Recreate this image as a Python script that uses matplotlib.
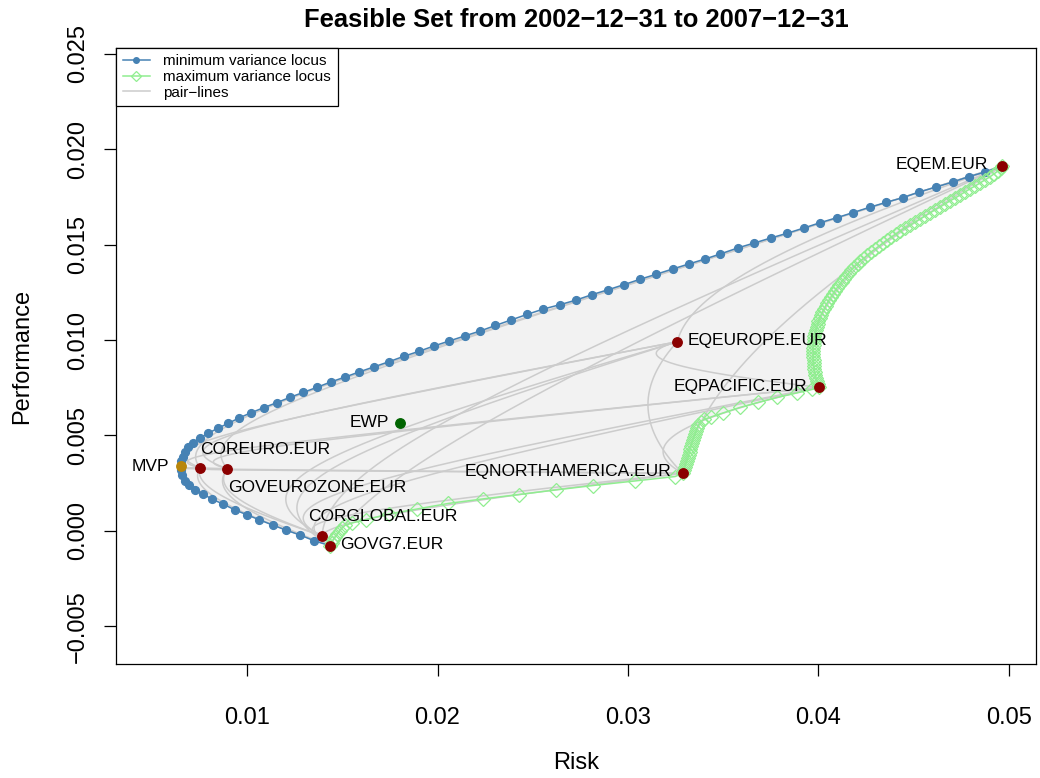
import matplotlib
matplotlib.use("Agg")
import matplotlib.pyplot as plt
from matplotlib.lines import Line2D
import numpy as np

# assets: risk (sd) and performance (mean)
assets = ["CORGLOBAL.EUR", "COREURO.EUR", "GOVG7.EUR", "GOVEUROZONE.EUR",
          "EQEUROPE.EUR", "EQNORTHAMERICA.EUR", "EQPACIFIC.EUR", "EQEM.EUR"]
asset_risk = [0.01394, 0.00753, 0.01436, 0.00897, 0.03259, 0.03287, 0.04004, 0.04965]
asset_return = [-0.00026, 0.00331, -0.00077, 0.00326, 0.00991, 0.00302, 0.00752, 0.01911]

# estimated pairwise correlations (same asset order), used for the pair-lines
corr = [
    [1.00, 0.45, 0.95, 0.45, -0.15, 0.15, -0.05, 0.30],
    [0.45, 1.00, 0.35, 0.90, -0.26, -0.28, -0.25, -0.10],
    [0.95, 0.35, 1.00, 0.40, -0.10, 0.175, 0.00, 0.50],
    [0.45, 0.90, 0.40, 1.00, -0.30, -0.25, -0.20, -0.10],
    [-0.15, -0.26, -0.10, -0.30, 1.00, 0.80, 0.60, 0.70],
    [0.15, -0.28, 0.175, -0.25, 0.80, 1.00, 0.62, 0.72],
    [-0.05, -0.25, 0.00, -0.20, 0.60, 0.62, 1.00, 0.715],
    [0.30, -0.10, 0.50, -0.10, 0.70, 0.72, 0.715, 1.00],
]

mvp_risk, mvp_return = 0.00652, 0.00340
ewp_risk, ewp_return = 0.01802, 0.00564

# minimum variance locus
min_risk = [0.01436, 0.01352, 0.01278, 0.01203, 0.01135, 0.01065, 0.01002, 0.00937, 0.00876, 0.00818,
            0.00771, 0.00727, 0.00697, 0.00675, 0.00659, 0.00654, 0.00652, 0.00655, 0.00662, 0.00675,
            0.00692, 0.00715, 0.00753, 0.00797, 0.00846, 0.00902, 0.00960, 0.01021, 0.01088, 0.01156,
            0.01226, 0.01296, 0.01366, 0.01439, 0.01514, 0.01589, 0.01668, 0.01744, 0.01824, 0.01903,
            0.01982, 0.02062, 0.02142, 0.02223, 0.02304, 0.02386, 0.02470, 0.02555, 0.02643, 0.02727,
            0.02809, 0.02895, 0.02979, 0.03063, 0.03147, 0.03235, 0.03319, 0.03404, 0.03483, 0.03579,
            0.03663, 0.03749, 0.03836, 0.03922, 0.04008, 0.04095, 0.04181, 0.04269, 0.04356, 0.04442,
            0.04529, 0.04617, 0.04704, 0.04788, 0.04876, 0.04965]
min_return = [-0.00077, -0.00051, -0.00021, 0.00005, 0.00031, 0.00058, 0.00084, 0.00110, 0.00140, 0.00166,
              0.00192, 0.00215, 0.00241, 0.00263, 0.00293, 0.00317, 0.00340, 0.00367, 0.00389, 0.00415,
              0.00441, 0.00462, 0.00487, 0.00512, 0.00538, 0.00564, 0.00593, 0.00619, 0.00646, 0.00672,
              0.00700, 0.00726, 0.00752, 0.00780, 0.00806, 0.00833, 0.00860, 0.00886, 0.00915, 0.00941,
              0.00969, 0.00995, 0.01021, 0.01047, 0.01076, 0.01105, 0.01134, 0.01162, 0.01185, 0.01209,
              0.01237, 0.01263, 0.01290, 0.01318, 0.01344, 0.01372, 0.01398, 0.01424, 0.01450, 0.01483,
              0.01508, 0.01534, 0.01559, 0.01586, 0.01614, 0.01640, 0.01667, 0.01695, 0.01721, 0.01745,
              0.01775, 0.01801, 0.01827, 0.01855, 0.01880, 0.01911]

# maximum variance locus
max_risk = [0.01436, 0.01444, 0.01451, 0.01462, 0.01472, 0.01486, 0.01499, 0.01514, 0.01551, 0.01625,
            0.01745, 0.01892, 0.02055, 0.02239, 0.02428, 0.02622, 0.02816, 0.03037, 0.03247, 0.03287,
            0.03294, 0.03299, 0.03304, 0.03310, 0.03315, 0.03319, 0.03323, 0.03328, 0.03332, 0.03336,
            0.03341, 0.03346, 0.03352, 0.03357, 0.03362, 0.03370, 0.03381, 0.03399, 0.03436, 0.03499,
            0.03588, 0.03682, 0.03782, 0.03887, 0.03966, 0.04004,
            0.03997, 0.03992, 0.03987, 0.03983, 0.03980, 0.03978, 0.03976, 0.03975, 0.03974, 0.03973,
            0.03973, 0.03973, 0.03973, 0.03974, 0.03975, 0.03976, 0.03979, 0.03982, 0.03986, 0.03990,
            0.03995, 0.04000, 0.04006, 0.04013, 0.04021, 0.04029, 0.04037, 0.04046, 0.04055, 0.04065,
            0.04076, 0.04086, 0.04097, 0.04108, 0.04121, 0.04134, 0.04147, 0.04160, 0.04173, 0.04189,
            0.04205, 0.04220, 0.04239, 0.04257, 0.04276, 0.04297, 0.04318, 0.04339, 0.04360, 0.04383,
            0.04407, 0.04430, 0.04454, 0.04480, 0.04507, 0.04533, 0.04559, 0.04585, 0.04612, 0.04638,
            0.04664, 0.04690, 0.04717, 0.04743, 0.04769, 0.04795, 0.04822, 0.04848, 0.04874, 0.04898,
            0.04921, 0.04942, 0.04958, 0.04965]
max_return = [-0.00077, -0.00063, -0.00047, -0.00031, -0.00016, 0.00000, 0.00016, 0.00029, 0.00042, 0.00060,
              0.00089, 0.00115, 0.00144, 0.00168, 0.00191, 0.00215, 0.00238, 0.00262, 0.00285, 0.00302,
              0.00319, 0.00335, 0.00351, 0.00367, 0.00382, 0.00398, 0.00414, 0.00429, 0.00445, 0.00461,
              0.00476, 0.00492, 0.00508, 0.00524, 0.00539, 0.00555, 0.00571, 0.00584, 0.00597, 0.00618,
              0.00647, 0.00673, 0.00699, 0.00723, 0.00741, 0.00752,
              0.00770, 0.00785, 0.00801, 0.00817, 0.00833, 0.00848, 0.00864, 0.00880, 0.00895, 0.00911,
              0.00927, 0.00942, 0.00958, 0.00974, 0.00990, 0.01005, 0.01021, 0.01037, 0.01052, 0.01068,
              0.01084, 0.01100, 0.01115, 0.01131, 0.01147, 0.01162, 0.01178, 0.01194, 0.01209, 0.01225,
              0.01241, 0.01257, 0.01272, 0.01288, 0.01304, 0.01319, 0.01335, 0.01351, 0.01367, 0.01382,
              0.01398, 0.01414, 0.01429, 0.01445, 0.01461, 0.01476, 0.01492, 0.01508, 0.01524, 0.01539,
              0.01555, 0.01571, 0.01586, 0.01602, 0.01618, 0.01633, 0.01649, 0.01665, 0.01681, 0.01696,
              0.01712, 0.01728, 0.01743, 0.01759, 0.01775, 0.01791, 0.01806, 0.01822, 0.01838, 0.01853,
              0.01869, 0.01885, 0.01901, 0.01911]

x_ticks = [0.01, 0.02, 0.03, 0.04, 0.05]
y_ticks = [-0.005, 0.0, 0.005, 0.010, 0.015, 0.020, 0.025]

# label placement: (dx px, dy px, ha)
label_pos = {
    "CORGLOBAL.EUR": (-14, 19, "left"),
    "COREURO.EUR": (0, 18, "left"),
    "GOVG7.EUR": (10, 1, "left"),
    "GOVEUROZONE.EUR": (1, -19, "left"),
    "EQEUROPE.EUR": (10, 1, "left"),
    "EQNORTHAMERICA.EUR": (-11, 2, "right"),
    "EQPACIFIC.EUR": (-12, 1, "right"),
    "EQEM.EUR": (-14, 2, "right"),
}

plt.rcParams['font.family'] = ['Liberation Sans', 'DejaVu Sans']

W, H = 1040, 778
fig = plt.figure(figsize=(W / 100, H / 100), dpi=100)
left, right, top, bottom = 116, 1036, 47.6, 664.3
ax = fig.add_axes([left / W, 1 - bottom / H, (right - left) / W, (bottom - top) / H])
ax.set_xlim(0.00312, 0.05142)
ax.set_ylim(-0.00698, 0.02531)

# shaded feasible set
poly_x = min_risk + max_risk[::-1]
poly_y = min_return + max_return[::-1]
ax.fill(poly_x, poly_y, color='#F2F2F2', lw=0, zorder=1)

# pair-lines (two asset portfolios)
s = np.array(asset_risk)
m = np.array(asset_return)
c = np.array(corr)
w = np.linspace(0, 1, 301)
for i in range(len(assets)):
    for j in range(i + 1, len(assets)):
        var = (w * s[i]) ** 2 + ((1 - w) * s[j]) ** 2 + 2 * w * (1 - w) * c[i, j] * s[i] * s[j]
        ax.plot(np.sqrt(var), w * m[i] + (1 - w) * m[j], color='#CCCCCC', lw=1.1, zorder=2)

ax.plot(min_risk, min_return, '-o', color='steelblue', lw=1.1, ms=5.6, zorder=4)
ax.plot(max_risk, max_return, '-D', color='lightgreen', mfc='none', mec='lightgreen',
        mew=0.9, lw=1.1, ms=6.8, zorder=5)

ax.plot(asset_risk, asset_return, 'o', color='darkred', ms=6.8, zorder=6)
ax.plot([mvp_risk], [mvp_return], 'o', color='#B8860B', ms=6.8, zorder=6)
ax.plot([ewp_risk], [ewp_return], 'o', color='darkgreen', ms=6.8, zorder=6)

fs_lab = 12.5
for name, x, y in zip(assets, asset_risk, asset_return):
    dx, dy, ha = label_pos[name]
    ax.annotate(name, (x, y), xytext=(dx, dy), textcoords='offset pixels',
                ha=ha, va='center', fontsize=fs_lab, zorder=7)
ax.annotate("MVP", (mvp_risk, mvp_return), xytext=(-12, 0), textcoords='offset pixels',
            ha='right', va='center', fontsize=fs_lab)
ax.annotate("EWP", (ewp_risk, ewp_return), xytext=(-11, 1), textcoords='offset pixels',
            ha='right', va='center', fontsize=fs_lab)

ax.set_xticks(x_ticks)
ax.set_xticklabels(["%.2f" % v for v in x_ticks])
ax.set_yticks(y_ticks)
ax.set_yticklabels([("%.3f" % v).replace("-", "\u2212") for v in y_ticks],
                   rotation=90, va='center')
ax.tick_params(axis='both', direction='out', length=8.6, width=0.9, labelsize=17)
ax.tick_params(axis='x', pad=22)
ax.tick_params(axis='y', pad=10.8)
for sp in ax.spines.values():
    sp.set_linewidth(0.9)

fig.text(576 / W, 1 - 27 / H, "Feasible Set from 2002\u221212\u221231 to 2007\u221212\u221231",
         ha='center', va='baseline', fontsize=18.4, fontweight='bold')
fig.text(576 / W, 1 - 763 / H, "Risk", ha='center', va='center', fontsize=17)
fig.text(22 / W, 1 - 356 / H, "Performance", ha='center', va='center', rotation=90, fontsize=17)

handles = [
    Line2D([], [], color='steelblue', marker='o', ms=4, lw=1.1),
    Line2D([], [], color='lightgreen', marker='D', mfc='none', ms=5.5, mew=0.9, lw=1.1),
    Line2D([], [], color='#CCCCCC', lw=1.1),
]
leg = ax.legend(handles, ["minimum variance locus", "maximum variance locus", "pair\u2212lines"],
                loc='upper left', bbox_to_anchor=(0, 1), borderaxespad=0, fontsize=11,
                frameon=True, fancybox=False, edgecolor='black', framealpha=1,
                handlelength=1.75, handletextpad=0.9, labelspacing=0.1, borderpad=0.45)
leg.get_frame().set_linewidth(0.9)
leg.set_zorder(10)

fig.savefig("out.png", dpi=100)
